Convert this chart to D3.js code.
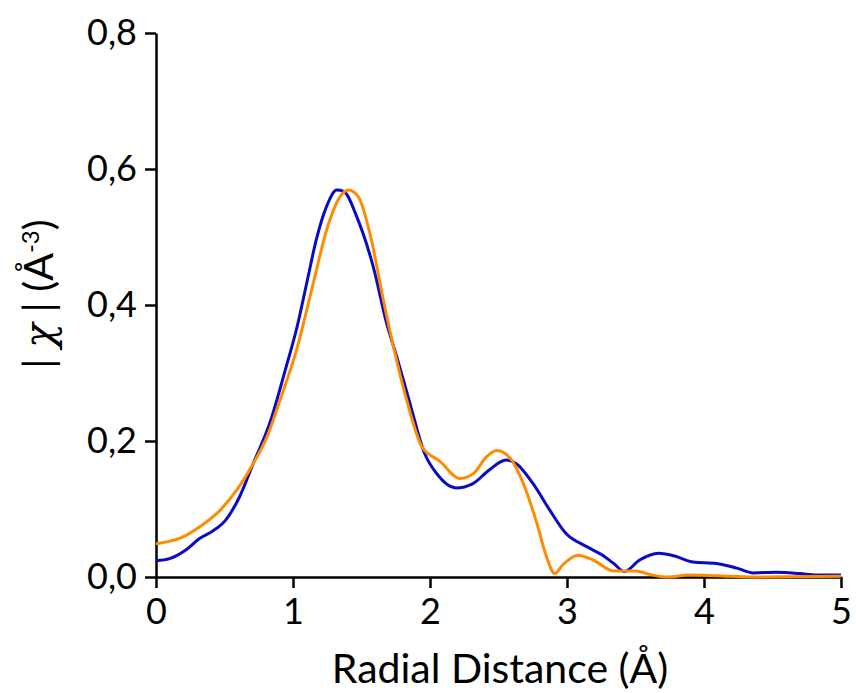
<html lang="en">
<head>
<meta charset="UTF-8">
<title>Radial distance chart</title>
<style>
  body { margin: 0; background: #fff; }
  .line { fill: none; stroke-width: 3px; stroke-linejoin: round; }
  .axis path, .axis line { stroke: #000; stroke-width: 2.5px; }
  .axis text { font-family: Lato, "Open Sans", sans-serif; font-size: 36px; fill: #000; }
  .title { font-family: Lato, "Open Sans", sans-serif; font-size: 41px; fill: #000; }
</style>
</head>
<body>
<svg width="856" height="693"></svg>
<script src="https://cdn.jsdelivr.net/npm/d3@7"></script>
<script>
var blueX = [0, 0.1, 0.22, 0.32, 0.41, 0.51, 0.61, 0.71, 0.83, 0.95, 1.03, 1.10, 1.17, 1.245, 1.32, 1.37, 1.465, 1.586, 1.684, 1.757, 1.85, 1.96, 2.045, 2.19, 2.31, 2.43, 2.555, 2.628, 2.75, 2.872, 2.993, 3.14, 3.26, 3.34, 3.42, 3.53, 3.67, 3.80, 3.92, 4.09, 4.24, 4.36, 4.53, 4.70, 4.82, 5.0];
var blueY = [0.024, 0.027, 0.040, 0.057, 0.067, 0.084, 0.118, 0.167, 0.226, 0.309, 0.368, 0.432, 0.496, 0.545, 0.569, 0.567, 0.530, 0.456, 0.373, 0.324, 0.258, 0.182, 0.153, 0.131, 0.137, 0.157, 0.172, 0.167, 0.138, 0.099, 0.064, 0.045, 0.032, 0.020, 0.008, 0.025, 0.035, 0.030, 0.022, 0.020, 0.013, 0.006, 0.007, 0.005, 0.003, 0.003];

var orangeX = [0, 0.175, 0.32, 0.467, 0.59, 0.71, 0.81, 0.905, 1.026, 1.148, 1.245, 1.343, 1.404, 1.477, 1.562, 1.66, 1.733, 1.83, 1.94, 2.073, 2.219, 2.316, 2.414, 2.487, 2.584, 2.68, 2.78, 2.85, 2.91, 2.97, 3.08, 3.19, 3.34, 3.50, 3.60, 3.73, 3.90, 4.09, 4.36, 5.0];
var orangeY = [0.049, 0.057, 0.074, 0.098, 0.128, 0.167, 0.206, 0.260, 0.334, 0.432, 0.510, 0.559, 0.569, 0.559, 0.505, 0.407, 0.339, 0.260, 0.192, 0.170, 0.145, 0.152, 0.177, 0.186, 0.175, 0.138, 0.079, 0.030, 0.005, 0.018, 0.032, 0.025, 0.009, 0.009, 0.004, 0.000, 0.003, 0.002, 0.000, 0.001];

var xTicks = [0, 1, 2, 3, 4, 5];
var yTicks = [0, 0.2, 0.4, 0.6, 0.8];

var series = [
  { name: "blue", color: "#0a0ac4", xs: blueX, ys: blueY },
  { name: "orange", color: "#ff8c00", xs: orangeX, ys: orangeY }
];

var svg = d3.select("svg");

var x = d3.scaleLinear().domain([0, 5]).range([156, 841]);
var y = d3.scaleLinear().domain([0, 0.8]).range([577, 33]);

// decimal comma on the y labels
var fmt = function(d) { return d3.format(".1f")(d).replace(".", ","); };

svg.append("g")
    .attr("class", "axis")
    .attr("transform", "translate(0,577)")
    .call(d3.axisBottom(x).tickValues(xTicks).tickFormat(d3.format("d")).tickSize(11).tickPadding(10).tickSizeOuter(0));

svg.append("g")
    .attr("class", "axis")
    .attr("transform", "translate(156,0)")
    .call(d3.axisLeft(y).tickValues(yTicks).tickFormat(fmt).tickSize(11).tickPadding(8).tickSizeOuter(0));

var line = d3.line()
    .x(function(d) { return x(d[0]); })
    .y(function(d) { return y(d[1]); })
    .curve(d3.curveMonotoneX);

series.forEach(function(s) {
  var pts = s.xs.map(function(v, i) { return [v, s.ys[i]]; });
  svg.append("path")
    .datum(pts)
    .attr("class", "line")
    .attr("stroke", s.color)
    .attr("d", line);
});

svg.append("text")
    .attr("class", "title")
    .attr("x", 500)
    .attr("y", 683)
    .attr("text-anchor", "middle")
    .text("Radial Distance (Å)");

var yt = svg.append("text")
    .attr("class", "title")
    .attr("font-size", "38px")
    .attr("transform", "translate(53,294) rotate(-90)")
    .attr("text-anchor", "middle");
yt.append("tspan").text("| ");
yt.append("tspan").attr("font-family", "DejaVu Serif").attr("font-style", "italic").text("χ");
yt.append("tspan").text(" | (Å");
yt.append("tspan").attr("baseline-shift", "super").attr("font-size", "24px").text("-3");
yt.append("tspan").text(")");
</script>
</body>
</html>
